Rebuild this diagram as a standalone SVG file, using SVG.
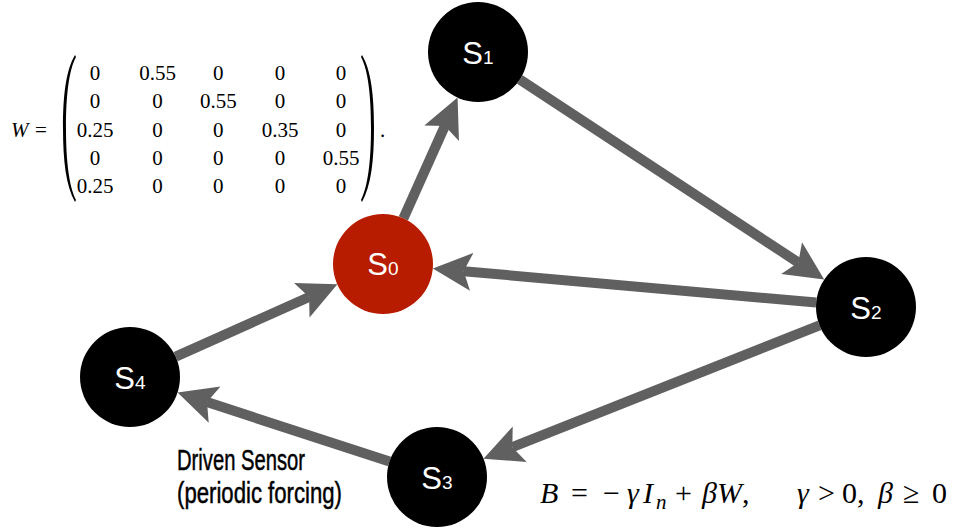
<svg xmlns="http://www.w3.org/2000/svg" width="964" height="529" viewBox="0 0 964 529">
<style>
.edge{stroke:#606060;stroke-width:10;fill:none;marker-end:url(#ah)}
.node{fill:#000}
.red{fill:#b81c00}
.lbl{font-family:"Liberation Sans",Arial,sans-serif;font-size:31px;fill:#fff;text-anchor:middle}
.sub{font-size:19px}
.math{font-family:"Liberation Serif","Times New Roman",serif;font-size:21px;fill:#000}
.mc{text-anchor:middle}
.eq{font-family:"Liberation Serif","Times New Roman",serif;font-size:30px;fill:#000}
.it{font-style:italic}
.note{font-family:"Liberation Sans",Arial,sans-serif;font-size:30px;fill:#000;stroke:#000;stroke-width:0.5}
</style>
<defs>
<marker id="ah" markerUnits="userSpaceOnUse" viewBox="0 -20 40 40" refX="8" refY="0" markerWidth="40" markerHeight="40" orient="auto">
<path d="M0,-19 L39,0 L0,19 L8,0 Z" fill="#606060"/>
</marker>
</defs>
<rect width="964" height="529" fill="#fff"/>
<g id="connectors">
<line class="edge" x1="403.4" y1="218.4" x2="444.9" y2="125.9"/>
<line class="edge" x1="519.8" y1="79.5" x2="798.3" y2="262.5"/>
<line class="edge" x1="816.2" y1="302.6" x2="463.7" y2="271.2"/>
<line class="edge" x1="819.5" y1="325.4" x2="512.3" y2="447.2"/>
<line class="edge" x1="389.5" y1="461.5" x2="207" y2="402.1"/>
<line class="edge" x1="175.7" y1="356.6" x2="309.1" y2="297"/>
</g>
<g id="S0"><circle class="red" cx="383" cy="264" r="50"/><text class="lbl" x="383" y="275">S<tspan class="sub">0</tspan></text></g>
<g id="S1"><circle class="node" cx="478" cy="52" r="50"/><text class="lbl" x="478" y="64">S<tspan class="sub">1</tspan></text></g>
<g id="S2"><circle class="node" cx="866" cy="307" r="50"/><text class="lbl" x="866" y="319">S<tspan class="sub">2</tspan></text></g>
<g id="S3"><circle class="node" cx="437" cy="477" r="50"/><text class="lbl" x="437" y="489">S<tspan class="sub">3</tspan></text></g>
<g id="S4"><circle class="node" cx="130" cy="377" r="50"/><text class="lbl" x="130" y="389">S<tspan class="sub">4</tspan></text></g>
<g id="matrix">
<text class="math it" x="11" y="136.6" font-size="22">W</text>
<text class="math" x="35" y="136.6" font-size="24">=</text>
<path d="M75,55 C66,70 63,95 63,128 C63,161 66,186 75,202 L76,200 C69,186 66,161 66,128 C66,95 69,70 76,57 Z" fill="#000"/>
<path d="M362,55 C371,70 374,95 374,128 C374,161 371,186 362,202 L361,200 C368,186 371,161 371,128 C371,95 368,70 361,57 Z" fill="#000"/>
<text class="math" x="380" y="136.6">.</text>
<g class="math mc">
<text x="95" y="80">0</text><text x="157.5" y="80">0.55</text><text x="218.3" y="80">0</text><text x="280" y="80">0</text><text x="341" y="80">0</text>
<text x="95" y="108.3">0</text><text x="157.5" y="108.3">0</text><text x="218.3" y="108.3">0.55</text><text x="280" y="108.3">0</text><text x="341" y="108.3">0</text>
<text x="95" y="136.6">0.25</text><text x="157.5" y="136.6">0</text><text x="218.3" y="136.6">0</text><text x="280" y="136.6">0.35</text><text x="341" y="136.6">0</text>
<text x="95" y="164.9">0</text><text x="157.5" y="164.9">0</text><text x="218.3" y="164.9">0</text><text x="280" y="164.9">0</text><text x="341" y="164.9">0.55</text>
<text x="95" y="193.2">0.25</text><text x="157.5" y="193.2">0</text><text x="218.3" y="193.2">0</text><text x="280" y="193.2">0</text><text x="341" y="193.2">0</text>
</g>
</g>
<g id="equation" class="eq">
<text y="503"><tspan class="it" x="540">B</tspan><tspan x="571">=</tspan><tspan x="603">−</tspan><tspan class="it" x="627">γ</tspan><tspan class="it" x="643">I</tspan><tspan class="it" x="656" y="509" font-size="21">n</tspan><tspan x="675" y="503">+</tspan><tspan class="it" x="702">β</tspan><tspan class="it" x="717">W</tspan><tspan x="742">,</tspan></text>
<text y="503"><tspan class="it" x="797">γ</tspan><tspan x="818">&gt;</tspan><tspan x="842">0,</tspan><tspan class="it" x="878">β</tspan><tspan x="903">≥</tspan><tspan x="932">0</tspan></text>
</g>
<g id="note">
<text class="note" x="177" y="470" textLength="128" lengthAdjust="spacingAndGlyphs">Driven Sensor</text>
<text class="note" x="177" y="503" textLength="165" lengthAdjust="spacingAndGlyphs">(periodic forcing)</text>
</g>
</svg>
